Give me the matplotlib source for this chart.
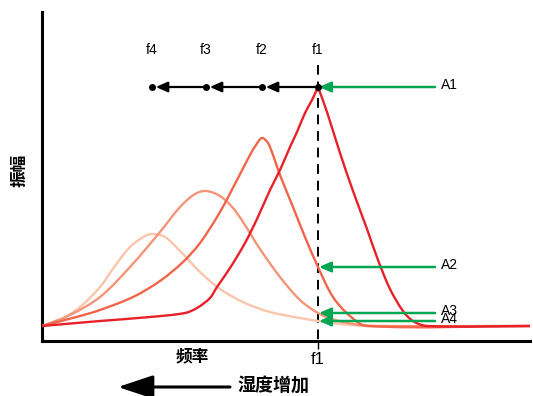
import matplotlib.pyplot as plt
from matplotlib.path import Path
from matplotlib.patches import PathPatch
import numpy as np

plt.rcParams['font.family'] = ['Liberation Sans', 'Noto Sans CJK SC', 'DejaVu Sans']

# 1. data (frequency, amplitude in arbitrary units)
f1_x = [0, 58, 108, 143, 155, 168, 175, 188, 203, 215, 228, 238, 248, 255, 263, 270, 276,
        285, 298, 311, 325, 336, 348, 361, 371, 385, 488]
f1_y = [15, 20, 24, 28, 33, 43, 54, 73, 98, 122, 151, 171, 194, 209, 228, 241, 254,
        229, 188, 150, 112, 81, 52, 30, 20, 15, 15]

f2_x = [0, 38, 58, 91, 118, 141, 158, 178, 195, 208, 214, 220, 226, 231, 238,
        251, 263, 276, 291, 308, 325, 488]
f2_y = [15, 25, 31, 44, 60, 79, 98, 129, 161, 186, 196, 203, 198, 186, 166,
        134, 104, 74, 44, 25, 15, 15]

f3_x = [0, 28, 58, 88, 118, 138, 153, 164, 178, 191, 201, 218, 238, 258, 276, 293, 318, 338, 488]
f3_y = [15, 26, 44, 74, 109, 134, 147, 150, 145, 133, 119, 92, 64, 41, 28, 21, 16, 15, 15]

f4_x = [0, 18, 38, 58, 73, 88, 103, 110, 123, 138, 158, 178, 203, 228, 258, 276, 298, 328, 488]
f4_y = [15, 21, 34, 54, 75, 94, 105, 107, 104, 90, 69, 52, 38, 29, 23, 20, 17, 15, 15]

curves_x = [f1_x, f2_x, f3_x, f4_x]
curves_y = [f1_y, f2_y, f3_y, f4_y]
freq_labels = ['f1', 'f2', 'f3', 'f4']
amp_labels = ['A1', 'A2', 'A3', 'A4']
colors = ['#e8202a', '#f0654b', '#f49478', '#f9c5ad']

# resonance frequency = peak of each curve, amplitude = value of each curve at f1
freqs = [cx[int(np.argmax(cy))] for cx, cy in zip(curves_x, curves_y)]
f1 = freqs[0]
amps = [float(np.interp(f1, cx, cy)) for cx, cy in zip(curves_x, curves_y)]


def smooth_path(xs, ys):
    # chord-length Catmull-Rom drawn as cubic Bezier segments through the points
    p = np.column_stack([xs, ys]).astype(float)
    t = np.concatenate([[0], np.cumsum(np.hypot(*np.diff(p, axis=0).T))])
    n = len(p)
    m = np.zeros_like(p)
    m[0] = (p[1] - p[0]) / (t[1] - t[0])
    m[-1] = (p[-1] - p[-2]) / (t[-1] - t[-2])
    for i in range(1, n - 1):
        m[i] = (p[i + 1] - p[i - 1]) / (t[i + 1] - t[i - 1])
    verts, codes = [p[0]], [Path.MOVETO]
    for i in range(n - 1):
        h = (t[i + 1] - t[i]) / 3
        verts += [p[i] + m[i] * h, p[i + 1] - m[i + 1] * h, p[i + 1]]
        codes += [Path.CURVE4] * 3
    return Path(verts, codes)


# 2. figure
fig = plt.figure(figsize=(5.33, 3.96), dpi=100)
ax = fig.add_axes([42 / 533, 55 / 396, 488 / 533, 329 / 396])
ax.set_xlim(0, 488)
ax.set_ylim(0, 329)

for s in ['top', 'right']:
    ax.spines[s].set_visible(False)
for s in ['left', 'bottom']:
    ax.spines[s].set_linewidth(2.2)

# curves (lightest first so red ends on top); red has a sharp peak, so split it there
for k in reversed(range(4)):
    cx, cy = curves_x[k], curves_y[k]
    if k == 0:
        j = int(np.argmax(cy))
        pieces = [(cx[:j + 1], cy[:j + 1]), (cx[j:], cy[j:])]
    else:
        pieces = [(cx, cy)]
    for px, py in pieces:
        ax.add_patch(PathPatch(smooth_path(px, py), fill=False, edgecolor=colors[k],
                               lw=1.7, capstyle='round', joinstyle='round', zorder=3))

# dashed line at f1
ax.plot([f1, f1], [276, 0], color='black', lw=1.4, ls=(0, (5, 3.5)), zorder=2)

# 3. frequency shift arrows at the top
top = amps[0]
for i in range(3):
    ax.annotate('', xy=(freqs[i + 1] + 1, top), xytext=(freqs[i], top),
                arrowprops=dict(arrowstyle='-|>,head_length=0.5,head_width=0.22', color='black',
                                lw=1.6, shrinkA=0, shrinkB=2, mutation_scale=14), zorder=4)
ax.plot(freqs, [top] * 4, 'o', color='black', ms=4, zorder=5)
for f, lab in zip(freqs, freq_labels):
    ax.text(f, 291, lab, ha='center', va='center', fontsize=10)

# amplitude arrows
for a, lab in zip(amps, amp_labels):
    ax.annotate('', xy=(f1 + 1, a), xytext=(393, a),
                arrowprops=dict(arrowstyle='-|>,head_length=0.5,head_width=0.22', color='#00a651',
                                lw=1.8, shrinkA=0, shrinkB=0, mutation_scale=14), zorder=4)
    ax.text(399, a + 2, lab, ha='left', va='center', fontsize=10)

# 4. axes text
ax.set_yticks([])
ax.set_xticks([f1])
ax.set_xticklabels(['f1'], fontsize=12)
ax.tick_params(axis='x', length=6, width=1, pad=2)

ax.text(150, -16, '频率', ha='center', va='center', fontsize=12, fontweight='bold', clip_on=False)
ax.text(-22, 171, '振幅', ha='center', va='center', fontsize=12, fontweight='bold',
        rotation=90, clip_on=False)
ax.text(196, -46, '湿度增加', ha='left', va='center', fontsize=13, fontweight='bold', clip_on=False)
ax.annotate('', xy=(76, -46), xytext=(188, -46), annotation_clip=False,
            arrowprops=dict(arrowstyle='-|>,head_length=1.2,head_width=0.4', color='black',
                            lw=2.2, shrinkA=0, shrinkB=0, mutation_scale=18))

fig.savefig('out.png', dpi=100)
